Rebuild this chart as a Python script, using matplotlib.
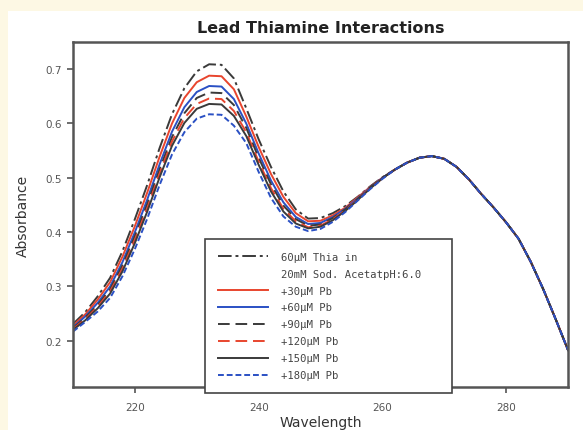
import matplotlib
matplotlib.use("Agg")
import matplotlib.pyplot as plt
from matplotlib.patches import Rectangle
from matplotlib.lines import Line2D

# Wavelength grid (nm)
wavelength = list(range(210, 292, 2))

# Shared tail of the spectra beyond 262 nm
tail = [0.515, 0.528, 0.537, 0.540, 0.535, 0.520, 0.497, 0.470, 0.445,
        0.418, 0.388, 0.345, 0.295, 0.240, 0.183]

thiamine = [0.231, 0.253, 0.282, 0.316, 0.365, 0.424, 0.487, 0.555, 0.617, 0.665,
            0.696, 0.709, 0.708, 0.683, 0.628, 0.571, 0.520, 0.475, 0.442, 0.425,
            0.426, 0.435, 0.448, 0.465, 0.484, 0.501] + tail
pb30 = [0.228, 0.249, 0.276, 0.308, 0.355, 0.411, 0.473, 0.539, 0.600, 0.647,
        0.676, 0.688, 0.687, 0.663, 0.613, 0.557, 0.507, 0.465, 0.435, 0.420,
        0.421, 0.431, 0.445, 0.464, 0.483, 0.500] + tail
pb60 = [0.225, 0.245, 0.270, 0.300, 0.345, 0.400, 0.460, 0.525, 0.585, 0.630,
        0.658, 0.669, 0.668, 0.645, 0.600, 0.545, 0.495, 0.455, 0.428, 0.415,
        0.417, 0.428, 0.443, 0.462, 0.482, 0.500] + tail
pb90 = [0.223, 0.243, 0.266, 0.295, 0.339, 0.393, 0.452, 0.516, 0.575, 0.619,
        0.647, 0.657, 0.656, 0.634, 0.592, 0.537, 0.488, 0.449, 0.424, 0.412,
        0.414, 0.426, 0.442, 0.461, 0.482, 0.500] + tail
pb120 = [0.222, 0.240, 0.263, 0.291, 0.333, 0.386, 0.444, 0.508, 0.567, 0.610,
         0.636, 0.646, 0.645, 0.623, 0.584, 0.530, 0.481, 0.443, 0.420, 0.409,
         0.412, 0.424, 0.440, 0.460, 0.481, 0.499] + tail
pb150 = [0.220, 0.238, 0.260, 0.287, 0.328, 0.380, 0.438, 0.501, 0.559, 0.601,
         0.627, 0.636, 0.635, 0.614, 0.577, 0.524, 0.475, 0.438, 0.416, 0.407,
         0.410, 0.422, 0.439, 0.459, 0.480, 0.499] + tail
pb180 = [0.217, 0.235, 0.254, 0.279, 0.319, 0.369, 0.425, 0.487, 0.543, 0.584,
         0.609, 0.617, 0.616, 0.596, 0.564, 0.511, 0.463, 0.429, 0.410, 0.402,
         0.406, 0.419, 0.437, 0.458, 0.479, 0.498] + tail

labels = ["60\u03bcM Thia in", "+30\u03bcM Pb", "+60\u03bcM Pb",
          "+90\u03bcM Pb", "+120\u03bcM Pb", "+150\u03bcM Pb", "+180\u03bcM Pb"]
buffer_note = "20mM Sod. AcetatpH:6.0"

RED = "#e8452e"
BLUE = "#2a50c4"
DARK = "#3a3a3a"

styles = [
    dict(color=DARK, linestyle=(0, (7, 2, 1.5, 2))),
    dict(color=RED, linestyle="-"),
    dict(color=BLUE, linestyle="-"),
    dict(color=DARK, linestyle=(0, (6, 3))),
    dict(color=RED, linestyle=(0, (6, 3))),
    dict(color=DARK, linestyle="-"),
    dict(color=BLUE, linestyle=(0, (3, 1.5))),
]
series = [thiamine, pb30, pb60, pb90, pb120, pb150, pb180]

fig = plt.figure(figsize=(5.83, 4.31), dpi=100)
fig.patch.set_facecolor("#fdf8e4")
fig.add_artist(Rectangle((8 / 583, 0), 1, (431 - 12) / 431, transform=fig.transFigure,
                         facecolor="white", edgecolor="none", zorder=-10))

ax = fig.add_axes([73 / 583, (431 - 388) / 431, 495 / 583, 345 / 431])
ax.set_zorder(1)
handles = []
for y, st, lab in zip(series, styles, labels):
    line, = ax.plot(wavelength, y, linewidth=1.4, label=lab, **st)
    handles.append(line)

ax.set_xlim(210, 290)
ax.set_ylim(0.115, 0.75)
ax.set_xticks([220, 240, 260, 280])
ax.set_yticks([0.2, 0.3, 0.4, 0.5, 0.6, 0.7])
ax.set_yticklabels(["0.2", "0.3", "0.4", "0.5", "0.6", "0.7"])
ax.tick_params(labelsize=7.5, colors="#555555", length=4, width=1.2, direction="out")
ax.tick_params(axis="x", pad=7)
ax.tick_params(axis="y", pad=4)
for sp in ax.spines.values():
    sp.set_color("#555555")
    sp.set_linewidth(1.8)

ax.set_xlabel("Wavelength", fontsize=10, color="#333333", labelpad=2)
ax.set_ylabel("Absorbance", fontsize=10, color="#333333", labelpad=11)
ax.set_title("Lead Thiamine Interactions", fontsize=11.5, fontweight="bold",
             color="#222222", pad=7)

# Legend: the buffer note sits on its own row under the first entry
leg_handles = [handles[0], Line2D([], [], linestyle="none")] + handles[1:]
leg_labels = [labels[0], buffer_note] + labels[1:]
leg = ax.legend(leg_handles, leg_labels, loc="lower left",
                bbox_to_anchor=(0.267, -0.0174, 0.499, 0.455), mode="expand",
                prop=dict(family="DejaVu Sans Mono", size=7.6),
                handlelength=4.8, handletextpad=1.2, borderpad=1.2,
                labelspacing=0.66, fancybox=False, framealpha=1,
                edgecolor="#444444", borderaxespad=0)
leg.get_frame().set_linewidth(1.2)
for t in leg.get_texts():
    t.set_color("#444444")
leg.set_zorder(5)

fig.savefig("out.png", dpi=100, facecolor=fig.get_facecolor())
